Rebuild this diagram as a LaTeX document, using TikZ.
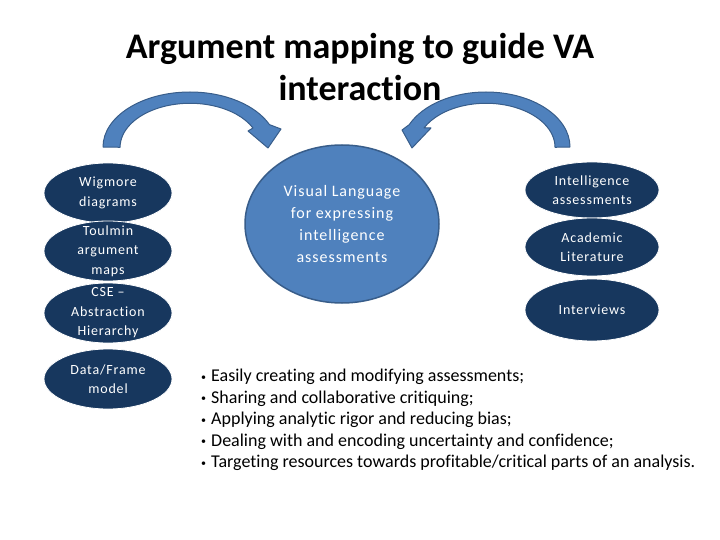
\documentclass[tikz,border=0pt]{standalone}
\usepackage{fontspec}
\setmainfont{Carlito}[Ligatures=NoCommon]
\newfontfamily\spacedfont[LetterSpace=6, Ligatures=NoCommon]{Carlito}
\definecolor{navy}{RGB}{23, 55, 94}
\definecolor{main}{RGB}{79, 129, 189}
\definecolor{edge}{RGB}{56, 93, 138}
\newcommand{\pt}{\raisebox{1.5pt}{\fontsize{10}{10}\selectfont\textbullet}\hspace{5pt}}
\usetikzlibrary{shapes.geometric, positioning}

\begin{document}
\begin{tikzpicture}[x=1pt, y=-1pt,
        every node/.style={align=center, inner sep=0pt},
        small/.style={ellipse, draw=white, line width=0.8pt, fill=navy, minimum width=128pt, minimum height=60pt},
        smalltxt/.style={text=white, font=\spacedfont\fontsize{14}{19.5}\selectfont},
        bigell/.style={ellipse, draw=edge, line width=1.5pt, fill=main, minimum width=194pt, minimum height=158pt},
        bigtxt/.style={text=white, font=\spacedfont\fontsize{16}{22}\selectfont},
        curvearrow/.style={fill=main, draw=edge, line width=1pt, line join=round}
    ]
        \useasboundingbox (0,0) rectangle (720,540);

        % title
        \node[font=\bfseries\fontsize{36}{42}\selectfont] (title) at (360,67) {Argument mapping to guide VA\\interaction};

        % left column
        \node[small] (wig)  at (108,193) {};
        \node[small] (toul) at (108,251) {};
        \node[small] (cse)  at (108,313) {};
        \node[small] (data) at (108,379) {};
        \node[smalltxt] (wigt)  at (wig)  {Wigmore\\diagrams};
        \node[smalltxt] (toult) at (toul) {Toulmin\\argument\\maps};
        \node[smalltxt] (cset)  at (cse)  {CSE –\\Abstraction\\Hierarchy};
        \node[smalltxt] (datat) at (data) {Data/Frame\\model};

        % centre
        \node[bigell] (vl) at (342,224) {};
        \node[bigtxt] (vlt) at (vl) {Visual Language\\for expressing\\intelligence\\assessments};

        % right column
        \node[small, minimum width=134pt, minimum height=56pt] (intel) at (592,190) {};
        \node[small, minimum width=134pt, minimum height=58pt] (acad)  at (592,247) {};
        \node[small, minimum width=134pt, minimum height=62pt] (inter) at (592,310) {};
        \node[smalltxt] (intelt) at (intel) {Intelligence\\assessments};
        \node[smalltxt] (acadt)  at (acad)  {Academic\\Literature};
        \node[smalltxt] (intert) at (inter) {Interviews};

        % curved arrows
        \draw[curvearrow] (103,147) arc[start angle=180, end angle=336, x radius=87, y radius=55]
            -- (281,129) -- (268,148) -- (248,131) -- (253,128)
            arc[start angle=334, end angle=180, x radius=70, y radius=44] -- cycle;
        \draw[curvearrow] (570,147) arc[start angle=360, end angle=204, x radius=84, y radius=55]
            -- (402,130) -- (412,148) -- (431,128) -- (424,128)
            arc[start angle=206, end angle=360, x radius=69, y radius=44] -- cycle;

        % benefits
        \node[anchor=north west, align=left, font=\fontsize{18}{21.5}\selectfont] (list) at (201,369)
            {\pt Easily creating and modifying assessments;\\
             \pt Sharing and collaborative critiquing;\\
             \pt Applying analytic rigor and reducing bias;\\
             \pt Dealing with and encoding uncertainty and confidence;\\
             \pt Targeting resources towards profitable/critical parts of an analysis.};
    \end{tikzpicture}
\end{document}
